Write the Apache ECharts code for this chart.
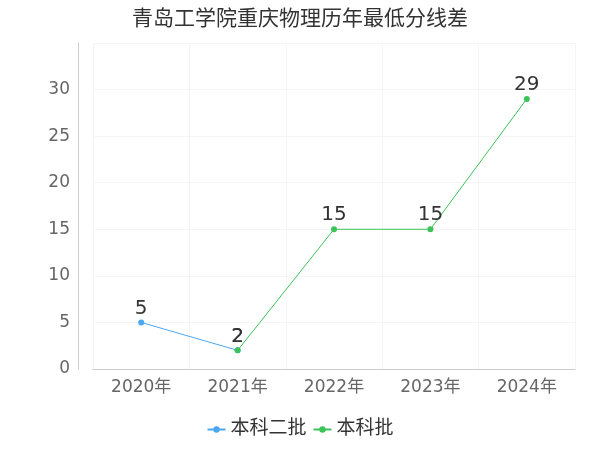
<!DOCTYPE html><html><head><meta charset="utf-8"><script src="https://cdn.jsdelivr.net/npm/echarts@6/dist/echarts.min.js"></script></head><body style="margin:0"><div id="c" style="width:600px;height:450px"></div><script>
const categories=['2020年','2021年','2022年','2023年','2024年'];
const seriesA=[5,2,null,null,null];
const seriesB=[null,2,15,15,29];
const chart=echarts.init(document.getElementById('c'));
const F='DejaVu Sans, Noto Sans CJK SC, sans-serif';
const lbl={show:true,position:'top',fontSize:20,color:'#333',distance:1,fontFamily:F};
chart.setOption({
textStyle:{fontFamily:F},
title:{text:'青岛工学院重庆物理历年最低分线差',left:'center',top:4,textStyle:{fontSize:21,fontWeight:'normal',color:'#333',fontFamily:F}},
legend:{bottom:6,itemGap:6,itemWidth:18,itemHeight:8,textStyle:{fontSize:19,color:'#333',fontFamily:F},data:['本科二批','本科批']},
grid:{left:93,right:25,top:43,bottom:81},
xAxis:{type:'category',data:categories,axisLine:{lineStyle:{color:'#ccc'}},axisTick:{show:false},axisLabel:{fontSize:17,color:'#666',margin:10,fontFamily:F},splitLine:{show:true,lineStyle:{color:'#f5f5f5'}}},
yAxis:{type:'value',min:0,max:35,interval:5,offset:15,axisLabel:{fontSize:17,color:'#666',showMaxLabel:false,fontFamily:F},axisLine:{show:true,lineStyle:{color:'#ccc'}},splitLine:{lineStyle:{color:'#f5f5f5'}}},
series:[
{name:'本科二批',type:'line',data:seriesA,color:'#4aa8f0',symbol:'circle',symbolSize:6,lineStyle:{width:1},label:lbl},
{name:'本科批',type:'line',data:seriesB,color:'#3cc35a',symbol:'circle',symbolSize:6,lineStyle:{width:1},label:lbl}
]});
</script></body></html>
